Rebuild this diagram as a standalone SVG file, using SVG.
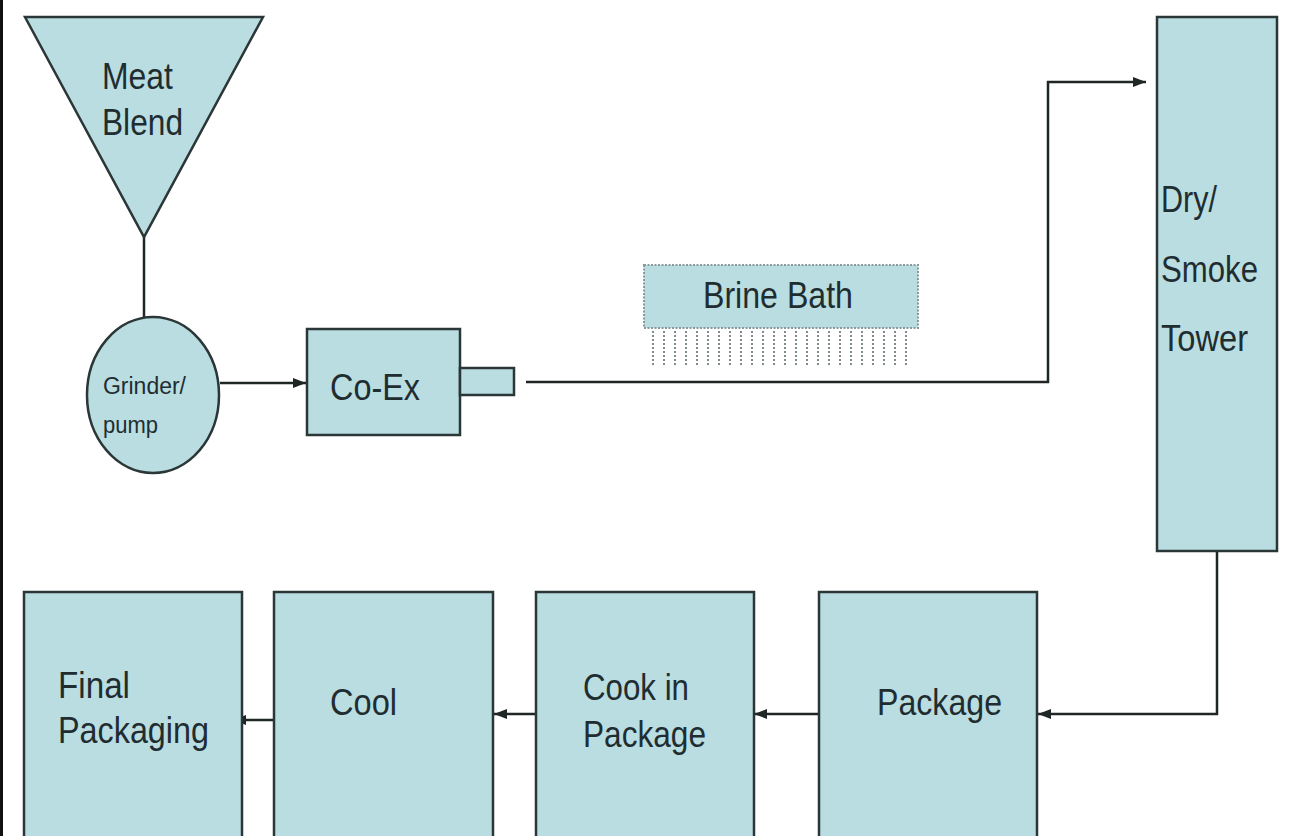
<svg xmlns="http://www.w3.org/2000/svg" width="1290" height="836" viewBox="0 0 1290 836">
<defs>
<style>
.n{fill:#b9dde1;stroke:#2b3636;stroke-width:2.5}
.t{font-family:"Liberation Sans",Arial,sans-serif;fill:#1f2d31;font-size:37px}
.c{fill:none;stroke:#1e2626;stroke-width:2.5}
</style>
<marker id="ah" markerUnits="userSpaceOnUse" markerWidth="14" markerHeight="12" viewBox="0 0 14 12" refX="13" refY="6" orient="auto">
<path d="M0,1 L13,6 L0,11 Z" fill="#1e2626"/>
</marker>
</defs>
<rect x="0" y="0" width="1290" height="836" fill="#ffffff"/>
<rect x="0" y="0" width="3" height="836" fill="#111"/>

<g id="connectors">
<line class="c" x1="144" y1="237" x2="144" y2="317"/>
<line class="c" x1="220" y1="383" x2="306" y2="383" marker-end="url(#ah)"/>
<polyline class="c" points="526,382 1048,382 1048,82 1146,82" marker-end="url(#ah)"/>
<polyline class="c" points="1217,551 1217,714 1038,714" marker-end="url(#ah)"/>
<line class="c" x1="819" y1="714" x2="754" y2="714" marker-end="url(#ah)"/>
<line class="c" x1="535" y1="714" x2="494" y2="714" marker-end="url(#ah)"/>
<line class="c" x1="273" y1="720" x2="233" y2="720" marker-end="url(#ah)"/>
</g>

<g id="meat-blend">
<polygon class="n" points="25,17 263,17 144,237"/>
<text class="t" x="102" y="89" textLength="71" lengthAdjust="spacingAndGlyphs">Meat</text>
<text class="t" x="102" y="135" textLength="81" lengthAdjust="spacingAndGlyphs">Blend</text>
</g>

<g id="grinder-pump">
<ellipse class="n" cx="153" cy="395" rx="66" ry="78"/>
<text class="t" x="103" y="394" style="font-size:23px" textLength="83" lengthAdjust="spacingAndGlyphs">Grinder/</text>
<text class="t" x="103" y="433" style="font-size:23px" textLength="55" lengthAdjust="spacingAndGlyphs">pump</text>
</g>

<g id="co-ex">
<rect class="n" x="307" y="329" width="153" height="106"/>
<rect class="n" x="460" y="368" width="54" height="27"/>
<text class="t" x="330" y="400" textLength="90" lengthAdjust="spacingAndGlyphs">Co-Ex</text>
</g>

<g id="brine-bath">
<rect x="644" y="265" width="274" height="63" fill="#b9dde1" stroke="#8a9a9c" stroke-width="2" stroke-dasharray="2 1.5"/>
<text class="t" x="703" y="308" textLength="150" lengthAdjust="spacingAndGlyphs">Brine Bath</text>
<g stroke="#7f8b8c" stroke-width="2" stroke-dasharray="2 2">
<line x1="653" y1="331" x2="653" y2="365"/><line x1="664" y1="331" x2="664" y2="365"/><line x1="675" y1="331" x2="675" y2="365"/><line x1="686" y1="331" x2="686" y2="365"/>
<line x1="697" y1="331" x2="697" y2="365"/><line x1="708" y1="331" x2="708" y2="365"/><line x1="719" y1="331" x2="719" y2="365"/><line x1="730" y1="331" x2="730" y2="365"/>
<line x1="741" y1="331" x2="741" y2="365"/><line x1="752" y1="331" x2="752" y2="365"/><line x1="763" y1="331" x2="763" y2="365"/><line x1="774" y1="331" x2="774" y2="365"/>
<line x1="785" y1="331" x2="785" y2="365"/><line x1="796" y1="331" x2="796" y2="365"/><line x1="807" y1="331" x2="807" y2="365"/><line x1="818" y1="331" x2="818" y2="365"/>
<line x1="829" y1="331" x2="829" y2="365"/><line x1="840" y1="331" x2="840" y2="365"/><line x1="851" y1="331" x2="851" y2="365"/><line x1="862" y1="331" x2="862" y2="365"/>
<line x1="873" y1="331" x2="873" y2="365"/><line x1="884" y1="331" x2="884" y2="365"/><line x1="895" y1="331" x2="895" y2="365"/><line x1="906" y1="331" x2="906" y2="365"/>
</g>
</g>

<g id="dry-smoke-tower">
<rect class="n" x="1157" y="17" width="120" height="534"/>
<text class="t" x="1161" y="212" textLength="56" lengthAdjust="spacingAndGlyphs">Dry/</text>
<text class="t" x="1161" y="282" textLength="97" lengthAdjust="spacingAndGlyphs">Smoke</text>
<text class="t" x="1161" y="351" textLength="87" lengthAdjust="spacingAndGlyphs">Tower</text>
</g>

<g id="package">
<rect class="n" x="819" y="592" width="218" height="260"/>
<text class="t" x="877" y="715" textLength="125" lengthAdjust="spacingAndGlyphs">Package</text>
</g>

<g id="cook-in-package">
<rect class="n" x="536" y="592" width="218" height="260"/>
<text class="t" x="583" y="700" textLength="106" lengthAdjust="spacingAndGlyphs">Cook in</text>
<text class="t" x="583" y="747" textLength="123" lengthAdjust="spacingAndGlyphs">Package</text>
</g>

<g id="cool">
<rect class="n" x="274" y="592" width="219" height="260"/>
<text class="t" x="330" y="715" textLength="67" lengthAdjust="spacingAndGlyphs">Cool</text>
</g>

<g id="final-packaging">
<rect class="n" x="24" y="592" width="218" height="260"/>
<text class="t" x="58" y="698" textLength="72" lengthAdjust="spacingAndGlyphs">Final</text>
<text class="t" x="58" y="743" textLength="151" lengthAdjust="spacingAndGlyphs">Packaging</text>
</g>
</svg>
